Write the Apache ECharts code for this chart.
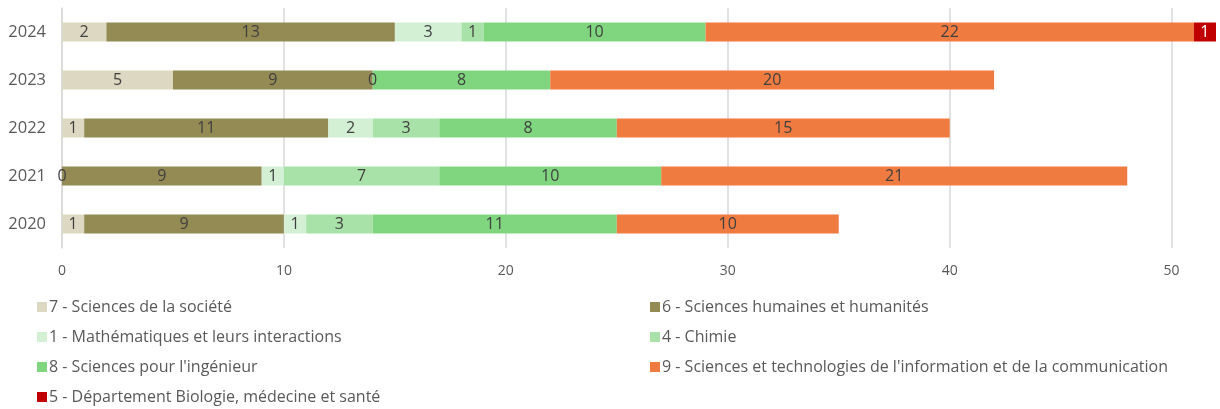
<!DOCTYPE html>
<html><head><meta charset="utf-8">
<script src="https://cdn.jsdelivr.net/npm/echarts@6/dist/echarts.min.js"></script>
<style>html,body{margin:0;padding:0;background:#fff}#c{width:1220px;height:409px}</style>
</head><body><div id="c"></div>
<script>
var years = ['2024', '2023', '2022', '2021', '2020'];
var seriesNames = [
  '7 - Sciences de la société',
  '6 - Sciences humaines et humanités',
  '1 - Mathématiques et leurs interactions',
  '4 - Chimie',
  '8 - Sciences pour l\'ingénieur',
  '9 - Sciences et technologies de l\'information et de la communication',
  '5 - Département Biologie, médecine et santé'
];
var soc   = [2, 5, 1, 0, 1];
var shs   = [13, 9, 11, 9, 9];
var math  = [3, 0, 2, 1, 1];
var chim  = [1, null, 3, 7, 3];
var spi   = [10, 8, 8, 10, 11];
var stic  = [22, 20, 15, 21, 10];
var bms   = [1, null, null, null, null];
var xTicks = [0, 10, 20, 30, 40, 50];

var values = [soc, shs, math, chim, spi, stic, bms];
var colors = ['#DDD8C2', '#948A54', '#D4F0D4', '#A9E2A9', '#7FD67F', '#EF7B41', '#C00000'];
var FONT = '"Open Sans", Lato, sans-serif';

var series = values.map(function (v, i) {
  return {
    name: seriesNames[i], type: 'bar', stack: 'all', data: v,
    barWidth: 19,
    itemStyle: { color: colors[i] },
    label: {
      show: true, position: 'inside', fontFamily: FONT, fontSize: 16,
      color: i === 6 ? '#ffffff' : '#404040',
      formatter: function (p) { return p.value == null ? '' : String(p.value); }
    }
  };
});

var legendCommon = {
  orient: 'vertical', top: 299, bottom: 0, padding: 0, itemGap: 14, itemWidth: 10, itemHeight: 10,
  icon: 'rect', textStyle: { color: '#595959', fontSize: 16, padding: [0, 0, 0, -3] }
};

var chart = echarts.init(document.getElementById('c'));
chart.setOption({
  animation: false,
  textStyle: { fontFamily: FONT },
  grid: { left: 62, right: 4, top: 8, height: 240, containLabel: false },
  xAxis: {
    type: 'value', min: 0, max: 52, interval: 10,
    axisLine: { show: false }, axisTick: { show: false },
    axisLabel: { color: '#595959', fontSize: 14, margin: 16, showMaxLabel: false,
      formatter: function (v) { return xTicks.indexOf(v) >= 0 ? String(v) : ''; } },
    splitLine: { show: true, showMaxLine: false, lineStyle: { color: '#d9d9d9', width: 1.5 } }
  },
  yAxis: {
    type: 'category', data: years, inverse: true,
    axisLine: { show: true, lineStyle: { color: '#d9d9d9', width: 1.5 } },
    axisTick: { show: false },
    axisLabel: { color: '#595959', fontSize: 16.5, margin: 16 }
  },
  legend: [
    Object.assign({}, legendCommon, { left: 37,
      data: [seriesNames[0], seriesNames[2], seriesNames[4], seriesNames[6]] }),
    Object.assign({}, legendCommon, { left: 650,
      data: [seriesNames[1], seriesNames[3], seriesNames[5]] })
  ],
  series: series
});
</script></body></html>
